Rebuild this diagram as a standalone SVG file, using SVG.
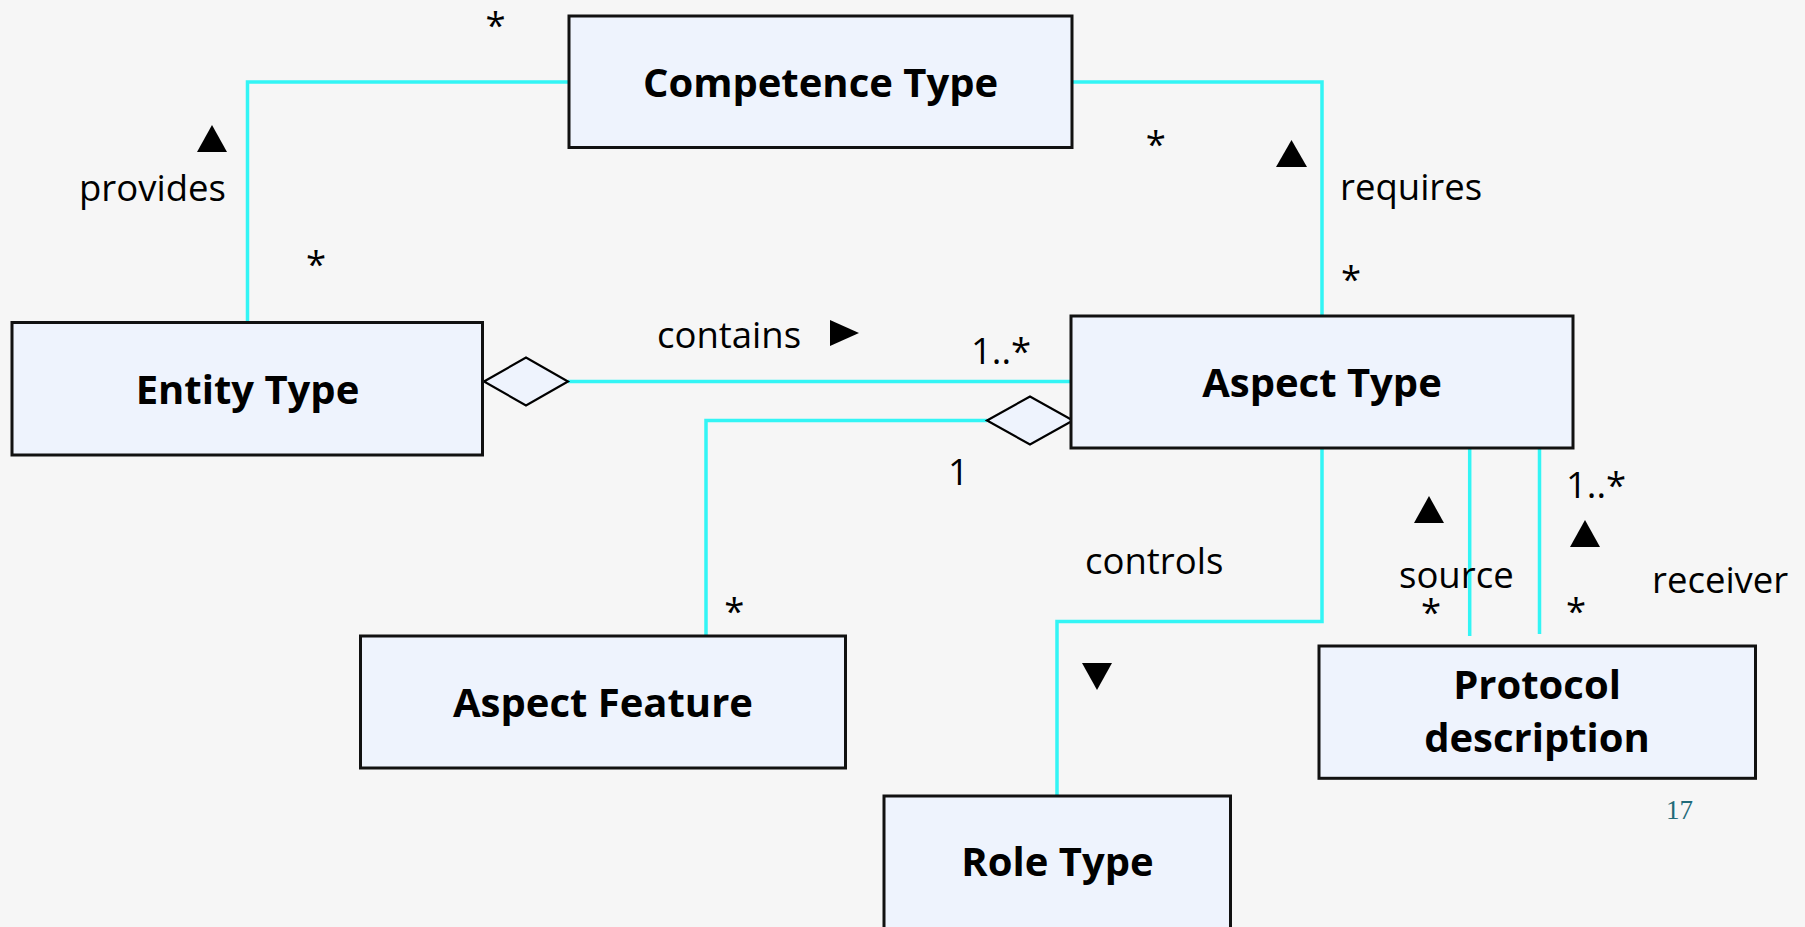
<svg xmlns="http://www.w3.org/2000/svg" width="1805" height="927" viewBox="0 0 1805 927">
<style>
.bg{fill:#F6F6F6}
.box{fill:#EEF3FD;stroke:#111;stroke-width:3}
.t{font-family:"Open Sans","Noto Sans",sans-serif;font-weight:bold;font-size:40px;fill:#000;text-anchor:middle}
.l{font-family:"Open Sans","Noto Sans",sans-serif;font-size:36.5px;fill:#000}
.c{fill:none;stroke:#33F5F5;stroke-width:3.5}
.dia{fill:#EEF3FD;stroke:#000;stroke-width:2.2}
.tri{fill:#000}
.pg{font-family:"Liberation Serif",serif;font-size:27px;fill:#1F6B7A;text-anchor:middle}
</style>
<rect class="bg" x="0" y="0" width="1805" height="927"/>
<g id="connectors">
  <path class="c" d="M247.5,322 V82 H569"/>
  <path class="c" d="M1072,82 H1322 V316"/>
  <path class="c" d="M568,381.5 H1071"/>
  <polygon class="dia" points="484,381.5 526,357.5 568,381.5 526,405.5"/>
  <path class="c" d="M987,420.5 H706 V636"/>
  <polygon class="dia" points="987,420.5 1030,396.5 1073,420.5 1030,444.5"/>
  <path class="c" d="M1322,448 V621.5 H1057 V796"/>
  <path class="c" d="M1469.7,444 V636"/>
  <path class="c" d="M1539.5,442 V634"/>
</g>
<g id="labels">
  <text class="l" x="495.6" y="38" text-anchor="middle">*</text>
  <polygon class="tri" points="197,152 227,152 212,125"/>
  <text class="l" x="79" y="201">provides</text>
  <text class="l" x="316" y="277" text-anchor="middle">*</text>
  <text class="l" x="1155.7" y="157" text-anchor="middle">*</text>
  <polygon class="tri" points="1276,167 1307,167 1291.5,140"/>
  <text class="l" x="1340" y="200">requires</text>
  <text class="l" x="1351" y="292" text-anchor="middle">*</text>
  <text class="l" x="657" y="348">contains</text>
  <polygon class="tri" points="830,320 859,333 830,346"/>
  <text class="l" x="971" y="364">1..*</text>
  <text class="l" x="948" y="485">1</text>
  <text class="l" x="734.4" y="624" text-anchor="middle">*</text>
  <text class="l" x="1085" y="574">controls</text>
  <polygon class="tri" points="1082,663 1112,663 1097,690"/>
  <polygon class="tri" points="1414,523 1444,523 1429,496"/>
  <text class="l" x="1399" y="588">source</text>
  <text class="l" x="1431" y="625" text-anchor="middle">*</text>
  <text class="l" x="1566" y="498">1..*</text>
  <polygon class="tri" points="1570,547 1600,547 1585,520"/>
  <text class="l" x="1652" y="593">receiver</text>
  <text class="l" x="1576" y="624" text-anchor="middle">*</text>
  <text class="pg" x="1679.5" y="819">17</text>
</g>
<g id="competence-type">
  <rect class="box" x="569" y="16" width="503" height="131.5"/>
  <text class="t" x="820.5" y="97">Competence Type</text>
</g>
<g id="entity-type">
  <rect class="box" x="12" y="322.5" width="470.5" height="132.5"/>
  <text class="t" x="247.5" y="403.5">Entity Type</text>
</g>
<g id="aspect-type">
  <rect class="box" x="1071" y="316" width="502" height="132"/>
  <text class="t" x="1322" y="397">Aspect Type</text>
</g>
<g id="aspect-feature">
  <rect class="box" x="360.5" y="636" width="485" height="132"/>
  <text class="t" x="603" y="717">Aspect Feature</text>
</g>
<g id="role-type">
  <rect class="box" x="884" y="796" width="346.5" height="140"/>
  <text class="t" x="1057.5" y="875.5">Role Type</text>
</g>
<g id="protocol-description">
  <rect class="box" x="1319" y="646" width="436.5" height="132.3"/>
  <text class="t" x="1537" y="699">Protocol</text>
  <text class="t" x="1537" y="751.5">description</text>
</g>
</svg>
